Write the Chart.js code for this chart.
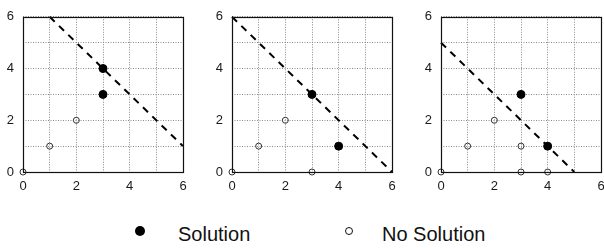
<!DOCTYPE html>
<html>
<head>
<meta charset="utf-8">
<script src="https://cdn.jsdelivr.net/npm/chart.js@4/dist/chart.umd.min.js"></script>
<style>
  html, body { margin:0; padding:0; background:#fff; overflow:hidden; width:604px; height:248px; }
  canvas { position:absolute; top:0; }
  .leg { position:absolute; font-family:"Liberation Sans", Arial, Helvetica, sans-serif; font-size:20px; line-height:20px; color:#111; white-space:nowrap; }
  .mk { position:absolute; border-radius:50%; box-sizing:border-box; }
</style>
</head>
<body>
<canvas id="c1" width="200" height="200" style="left:0px"></canvas>
<canvas id="c2" width="200" height="200" style="left:209px"></canvas>
<canvas id="c3" width="200" height="200" style="left:418px"></canvas>

<div class="mk" style="left:135px; top:226px; width:10px; height:10px; background:#000;"></div>
<div class="leg" style="left:178px; top:224px;">Solution</div>
<div class="mk" style="left:345px; top:227px; width:8px; height:8px; border:1px solid #111; background:#fff;"></div>
<div class="leg" style="left:382px; top:224px;">No Solution</div>

<script>
// ---- data ----
const tickLabels = [0, 2, 4, 6];

const line1 = [{x:1, y:6}, {x:6, y:1}];
const sol1 = [{x:3, y:4}, {x:3, y:3}];
const noSol1 = [{x:0, y:0}, {x:1, y:1}, {x:2, y:2}];

const line2 = [{x:0, y:6}, {x:6, y:0}];
const sol2 = [{x:3, y:3}, {x:4, y:1}];
const noSol2 = [{x:0, y:0}, {x:1, y:1}, {x:2, y:2}, {x:3, y:0}];

const line3 = [{x:0, y:5}, {x:5, y:0}];
const sol3 = [{x:3, y:3}, {x:4, y:1}];
const noSol3 = [{x:0, y:0}, {x:1, y:1}, {x:2, y:2}, {x:3, y:1}, {x:3, y:0}, {x:4, y:0}];

// ---- drawing ----
const FONT = {family:'"Liberation Sans", Arial, Helvetica, sans-serif', size:13};

const framePlugin = {
  id:'frame',
  afterDraw(chart){
    const a = chart.chartArea, ctx = chart.ctx;
    ctx.save();
    ctx.strokeStyle = '#111';
    ctx.lineWidth = 1.2;
    ctx.strokeRect(Math.round(a.left)+0.5, Math.round(a.top)+0.5, Math.round(a.right-a.left), Math.round(a.bottom-a.top));
    ctx.restore();
  }
};

function axis(isX){
  return {
    type:'linear', min:0, max:6,
    ticks:{
      stepSize:1, autoSkip:false, maxRotation:0,
      padding: isX ? 7 : 9,
      font:FONT, color:'#1a1a1a',
      callback:(v)=> tickLabels.includes(v) ? String(v) : ''
    },
    grid:{color:'#8a8a8a', lineWidth:1, drawTicks:false},
    border:{display:false, dash:[1,1.5]},
    afterFit:(s)=>{ if(isX){ s.height = 28; } else { s.width = 23; } }
  };
}

function makeChart(id, line, sol, noSol){
  new Chart(document.getElementById(id), {
    type:'scatter',
    data:{datasets:[
      {data:line, showLine:true, borderColor:'#000', borderWidth:2, borderDash:[7,6],
       pointRadius:0, clip:false, order:3},
      {data:noSol, pointRadius:3, pointBackgroundColor:'rgba(255,255,255,0)',
       pointBorderColor:'#333', pointBorderWidth:1, clip:false, order:2},
      {data:sol, pointRadius:4, pointBackgroundColor:'#000', pointBorderColor:'#000',
       pointBorderWidth:1, clip:false, order:1}
    ]},
    options:{
      responsive:false, animation:false, devicePixelRatio:1, events:[],
      layout:{padding:{left:0, right:17, top:11, bottom:0}},
      plugins:{legend:{display:false}, tooltip:{enabled:false}},
      scales:{x:axis(true), y:axis(false)}
    },
    plugins:[framePlugin]
  });
}

makeChart('c1', line1, sol1, noSol1);
makeChart('c2', line2, sol2, noSol2);
makeChart('c3', line3, sol3, noSol3);
</script>
</body>
</html>
